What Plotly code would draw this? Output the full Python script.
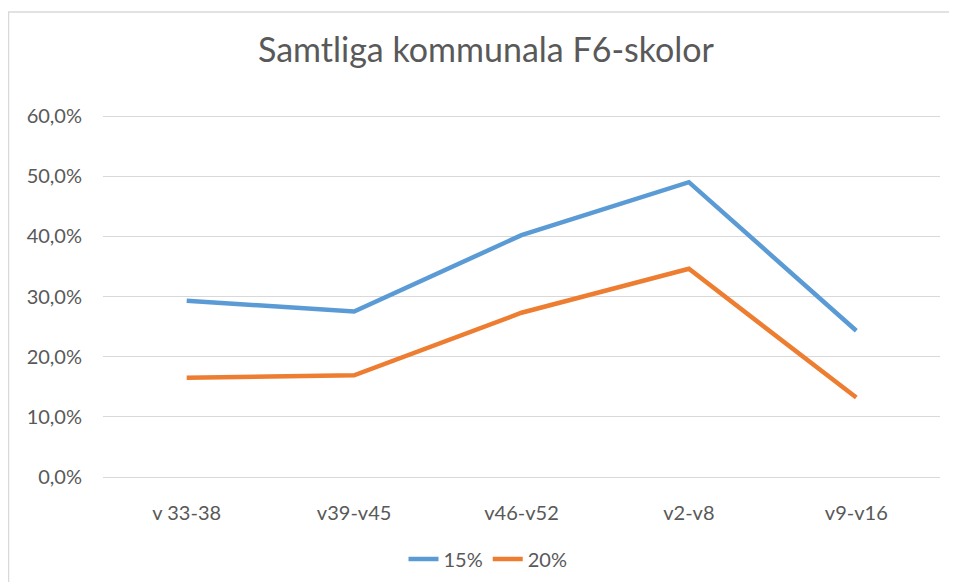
import plotly.graph_objects as go

categories = ["v 33-38", "v39-v45", "v46-v52", "v2-v8", "v9-v16"]
series_15 = [0.293, 0.275, 0.402, 0.490, 0.243]
series_20 = [0.165, 0.169, 0.273, 0.346, 0.132]
series_names = ["15%", "20%"]
colors = ["#5B9BD5", "#ED7D31"]
y_ticks = [0, 0.1, 0.2, 0.3, 0.4, 0.5, 0.6]

FONT = "Lato"
TXT = "#595959"

# page body has an 8px margin; figure is sized/offset to compensate
W, H = 949, 574
PAD = 2  # px of headroom so the edge gridlines (0% and 60%) are drawn
PL, PR, PT, PB = 95, 17, 108 - PAD, 105 - PAD
PW = W - PL - PR
PH = H - PT - PB
YPAD = PAD * 0.6 / 361

fig = go.Figure()
for name, vals, col in zip(series_names, [series_15, series_20], colors):
    fig.add_trace(go.Scatter(
        x=categories, y=vals, name=name, mode="lines",
        line=dict(color=col, width=4.5),
        hoverinfo="x+y+name",
    ))

fig.update_layout(
    width=W, height=H,
    margin=dict(l=PL, r=PR, t=PT, b=PB, autoexpand=False),
    paper_bgcolor="white", plot_bgcolor="white",
    separators=",.",
    font=dict(family=FONT, color=TXT, size=20),
    title=dict(text="Samtliga kommunala F6-skolor", x=(486 - 8) / W, xref="container", xanchor="center",
               y=1 - 42 / H, yref="container", yanchor="middle",
               font=dict(family=FONT, size=34, color=TXT)),
    showlegend=True,
    legend=dict(orientation="h", x=(488 - 103) / PW, xanchor="center",
                y=-(82 - PAD) / PH, yanchor="middle", font=dict(size=20, color=TXT),
                bgcolor="rgba(0,0,0,0)"),
    xaxis=dict(type="category", range=[-0.5, 4.5], showgrid=False, zeroline=False,
               showline=False, ticks="", tickfont=dict(size=20, color=TXT),
               ticklabelstandoff=22 - PAD, fixedrange=True),
    yaxis=dict(range=[-YPAD, 0.6 + YPAD], tickvals=y_ticks, tickformat=".1%", showgrid=True,
               gridcolor="#D9D9D9", gridwidth=1, zeroline=False, showline=False,
               ticks="", tickfont=dict(size=20, color=TXT), ticklabelstandoff=20,
               fixedrange=True),
    shapes=[dict(type="rect", xref="paper", yref="paper",
                 xsizemode="pixel", ysizemode="pixel", xanchor=0, yanchor=0,
                 x0=-94.5, x1=900, y0=-130, y1=465 + PAD,
                 line=dict(color="#D9D9D9", width=1.5), fillcolor="rgba(0,0,0,0)",
                 layer="below")],
)

fig.write_html("out.html")
